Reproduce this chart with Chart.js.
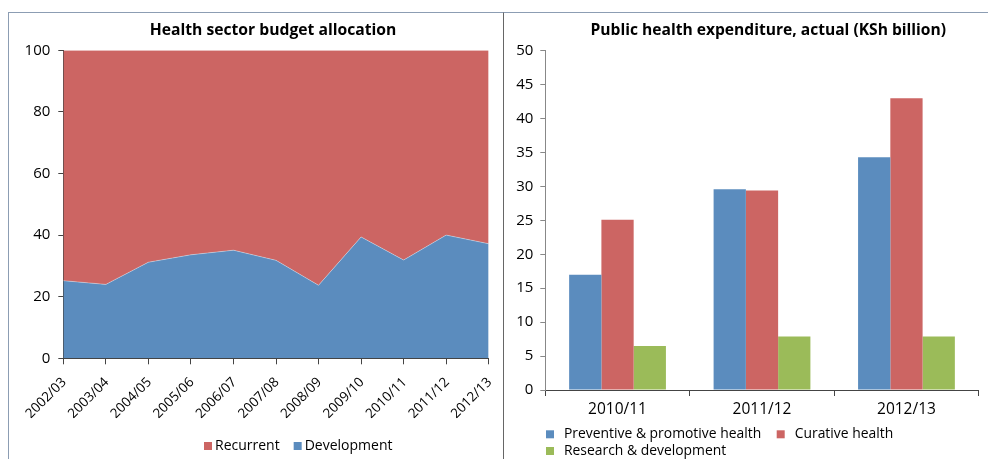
<!DOCTYPE html>
<html>
<head>
<meta charset="utf-8">
<script src="https://cdn.jsdelivr.net/npm/chart.js@4/dist/chart.umd.min.js"></script>
<style>
  html, body { margin: 0; padding: 0; background: #fff; width: 988px; height: 459px; overflow: hidden; }
  .panel { position: absolute; top: 12px; height: 446px; border-top: 1px solid #8c9db3; }
  #left { left: 8px; width: 494px; border-left: 1px solid #8c9db3; }
  #right { left: 503px; width: 485px; border-left: 1px solid #666; }
  canvas { display: block; }
</style>
</head>
<body>
<div class="panel" id="left"><canvas id="budget" width="494" height="446"></canvas></div>
<div class="panel" id="right"><canvas id="spend" width="484" height="446"></canvas></div>
<script>
// Health sector budget allocation, % of total
const fiscalYears = ['2002/03', '2003/04', '2004/05', '2005/06', '2006/07', '2007/08',
                     '2008/09', '2009/10', '2010/11', '2011/12', '2012/13'];
const developmentShare = [25.2, 24.0, 31.2, 33.6, 35.1, 31.8, 23.7, 39.4, 31.9, 40.0, 37.2];
const recurrentShare   = [74.8, 76.0, 68.8, 66.4, 64.9, 68.2, 76.3, 60.6, 68.1, 60.0, 62.8];
const shareTicks = [0, 20, 40, 60, 80, 100];

// Public health expenditure, actual (KSh billion)
const spendYears = ['2010/11', '2011/12', '2012/13'];
const preventiveHealth = [17.0, 29.6, 34.3];
const curativeHealth   = [25.1, 29.4, 43.0];
const researchDev      = [6.5, 7.9, 7.9];
const spendTicks = [0, 5, 10, 15, 20, 25, 30, 35, 40, 45, 50];

const BLUE = '#5b8cbe';
const RED = '#cc6563';
const GREEN = '#9bbb59';
const FONT = "'Open Sans', 'DejaVu Sans', sans-serif";

Chart.defaults.font.family = FONT;
Chart.defaults.color = '#000';

// Draws the panel heading and a swatch legend built from the chart's datasets.
const panelText = {
  id: 'panelText',
  afterDraw(chart, args, opts) {
    const { ctx, chartArea } = chart;
    ctx.save();
    const t = opts.title;
    if (t) {
      ctx.font = t.font;
      ctx.fillStyle = '#000';
      ctx.textAlign = 'center';
      ctx.textBaseline = 'alphabetic';
      ctx.fillText(t.text, (chartArea.left + chartArea.right) / 2 + t.dx, t.baseline);
    }
    const lg = opts.legend;
    if (lg) {
      ctx.font = lg.font;
      ctx.textAlign = 'left';
      ctx.textBaseline = 'alphabetic';
      lg.rows.forEach((row, r) => {
        const base = lg.baseline + r * lg.rowGap;
        let x = lg.x;
        row.forEach((idx, c) => {
          if (lg.cols) x = lg.cols[c];
          const ds = chart.data.datasets[idx];
          ctx.fillStyle = ds.backgroundColor;
          ctx.fillRect(x, base - lg.box, lg.box, lg.box);
          ctx.fillStyle = '#000';
          ctx.fillText(ds.label, x + lg.textGap, base);
          x += lg.textGap + ctx.measureText(ds.label).width + lg.itemGap;
        });
      });
    }
    ctx.restore();
  }
};

const tickList = (values) => (scale) => {
  scale.ticks = values.map(v => ({ value: v }));
};

new Chart(document.getElementById('budget'), {
  type: 'line',
  data: {
    labels: fiscalYears,
    datasets: [
      { label: 'Development', data: developmentShare, backgroundColor: BLUE,
        borderColor: 'rgba(255,255,255,0.35)', borderWidth: 1, fill: 'origin',
        pointRadius: 0, tension: 0 },
      { label: 'Recurrent', data: recurrentShare, backgroundColor: RED,
        borderWidth: 0, borderColor: RED, fill: '-1', pointRadius: 0, tension: 0 }
    ]
  },
  options: {
    responsive: false,
    animation: false,
    devicePixelRatio: 1,
    layout: { padding: { top: 37.3, left: 0, right: 14.3, bottom: 40.7 } },
    plugins: {
      legend: { display: false },
      tooltip: { enabled: false },
      panelText: {
        title: { text: 'Health sector budget allocation', font: `bold 15.7px ${FONT}`, dx: -3, baseline: 21.7 },
        legend: { font: `14px ${FONT}`, rows: [[1, 0]], x: 195, baseline: 437, rowGap: 17,
                  box: 8, textGap: 11, itemGap: 14 }
      }
    },
    scales: {
      x: {
        offset: false,
        grid: { display: true, drawOnChartArea: false, tickLength: 6, color: '#444' },
        border: { color: '#444' },
        ticks: { autoSkip: false, minRotation: 45, maxRotation: 45, font: { size: 13.5 },
                 padding: 10, labelOffset: 1 },
        afterFit(scale) {
          scale.height = 60;
          // rotated labels may overhang the plot edges; keep the plot width fixed
          scale.paddingLeft = 0;
          scale.paddingRight = 0;
        }
      },
      y: {
        stacked: true,
        min: 0, max: 100,
        afterBuildTicks: tickList(shareTicks),
        grid: { drawOnChartArea: false, tickLength: 5, color: '#444' },
        border: { color: '#444' },
        ticks: { font: { size: 15 }, padding: 8 },
        afterFit(scale) { scale.width = 54.3; }
      }
    }
  },
  plugins: [panelText]
});

new Chart(document.getElementById('spend'), {
  type: 'bar',
  data: {
    labels: spendYears,
    datasets: [
      { label: 'Preventive & promotive health', data: preventiveHealth, backgroundColor: BLUE },
      { label: 'Curative health', data: curativeHealth, backgroundColor: RED },
      { label: 'Research & development', data: researchDev, backgroundColor: GREEN }
    ]
  },
  options: {
    responsive: false,
    animation: false,
    devicePixelRatio: 1,
    datasets: { bar: { categoryPercentage: 0.67, barPercentage: 1 } },
    layout: { padding: { top: 37.7, left: 0, right: 9.3, bottom: 29 } },
    plugins: {
      legend: { display: false },
      tooltip: { enabled: false },
      panelText: {
        title: { text: 'Public health expenditure, actual (KSh billion)', font: `bold 15.6px ${FONT}`, dx: 6.3, baseline: 22 },
        legend: { font: `13.9px ${FONT}`, rows: [[0, 1], [2]], cols: [42, 272.7], baseline: 425.3, rowGap: 16.7,
                  box: 8, textGap: 18, itemGap: 16 }
      }
    },
    scales: {
      x: {
        grid: { display: true, drawOnChartArea: false, tickLength: 6, color: '#444', offset: true },
        border: { color: '#444' },
        ticks: { font: { size: 15.5 }, padding: 4 },
        afterFit(scale) { scale.height = 40; }
      },
      y: {
        min: 0, max: 50,
        afterBuildTicks: tickList(spendTicks),
        grid: { drawOnChartArea: false, tickLength: 5, color: '#888' },
        border: { color: '#888' },
        ticks: { font: { size: 15 }, padding: 7 },
        afterFit(scale) { scale.width = 41.3; }
      }
    }
  },
  plugins: [panelText]
});
</script>
</body>
</html>
